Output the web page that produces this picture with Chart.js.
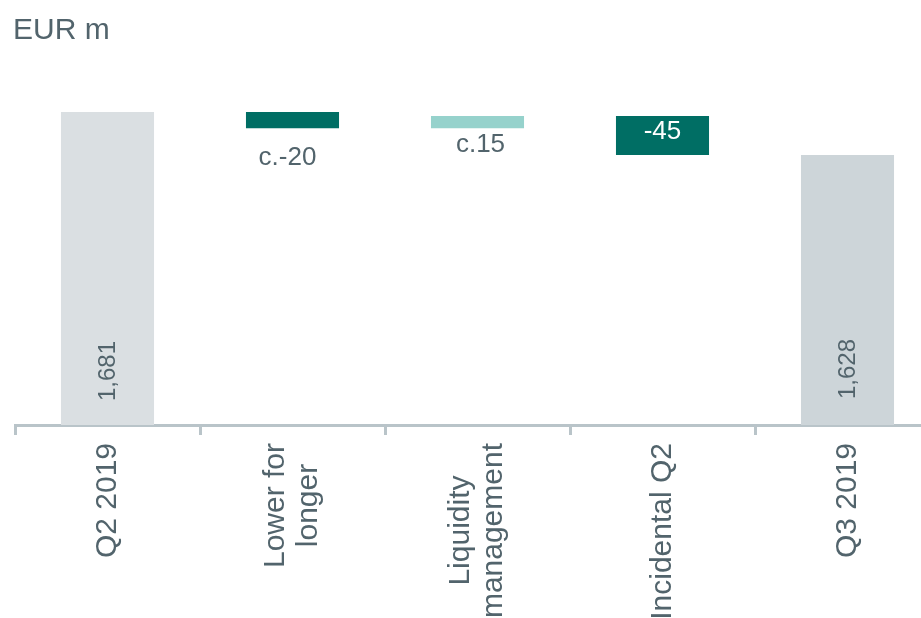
<!DOCTYPE html>
<html>
<head>
<meta charset="utf-8">
<script src="https://cdn.jsdelivr.net/npm/chart.js@4/dist/chart.umd.min.js"></script>
<style>
  html, body { margin: 0; padding: 0; background: #ffffff; overflow: hidden; }
  #wrap { position: relative; width: 921px; height: 618px; overflow: hidden; }
  canvas { display: block; }
</style>
</head>
<body>
<div id="wrap"><canvas id="c" width="945" height="618"></canvas></div>
<script>
// ---- data ----
const unitLabel = "EUR m";
const categories = [["Q2 2019"], ["Lower for", "longer"], ["Liquidity", "management"], ["Incidental Q2"], ["Q3 2019"]];
const axisMin = 1295;
const axisMax = 1750;
const barLow  = [axisMin, 1661, 1661, 1628, axisMin];
const barHigh = [1681,    1681, 1676, 1676, 1628];
const valueLabels = ["1,681", "c.-20", "c.15", "-45", "1,628"];

// ---- styles ----
const FONT = "'Liberation Sans', Arial, sans-serif";
const TEXT = "#52646c";
const barColors = ["#dadfe2", "#006e64", "#96d2cc", "#006e64", "#cdd5d9"];
// label style per bar: kind, colour, font size, offsets
const labelStyle = [
  { kind: "rotBase", color: TEXT, size: 24, dy: -24, dx: 1 },
  { kind: "below",   color: TEXT, size: 26, dy: 37,  dx: -5 },
  { kind: "below",   color: TEXT, size: 26, dy: 24,  dx: 3 },
  { kind: "inside",  color: "#ffffff", size: 26, dy: 23, dx: 0 },
  { kind: "rotBase", color: TEXT, size: 24, dy: -26, dx: 1 }
];

const floating = barLow.map((lo, i) => [lo, barHigh[i]]);

const overlay = {
  id: "overlay",
  afterDatasetsDraw(chart) {
    const ctx = chart.ctx;
    const meta = chart.getDatasetMeta(0);
    // value labels
    meta.data.forEach((bar, i) => {
      const st = labelStyle[i];
      const top = Math.min(bar.y, bar.base);
      const bottom = Math.max(bar.y, bar.base);
      ctx.save();
      ctx.fillStyle = st.color;
      ctx.font = st.size + "px " + FONT;
      if (st.kind === "rotBase") {
        ctx.translate(bar.x + st.dx, bottom + st.dy);
        ctx.rotate(-Math.PI / 2);
        ctx.textAlign = "left";
        ctx.textBaseline = "middle";
        ctx.fillText(valueLabels[i], 0, 0);
      } else if (st.kind === "below") {
        ctx.textAlign = "center";
        ctx.textBaseline = "alphabetic";
        ctx.fillText(valueLabels[i], bar.x + st.dx, bottom + st.dy);
      } else {
        ctx.textAlign = "center";
        ctx.textBaseline = "alphabetic";
        ctx.fillText(valueLabels[i], bar.x + st.dx, top + st.dy);
      }
      ctx.restore();
    });
    // category labels (rotated, lines centred within block)
    const xs = chart.scales.x;
    ctx.save();
    ctx.font = "30px " + FONT;
    ctx.fillStyle = TEXT;
    categories.forEach((lines, i) => {
      const cx = xs.getPixelForValue(i);
      const w = Math.max(...lines.map(l => ctx.measureText(l).width));
      ctx.save();
      ctx.translate(cx, chart.chartArea.bottom + 18);
      ctx.rotate(-Math.PI / 2);
      ctx.textAlign = "center";
      ctx.textBaseline = "middle";
      const lh = 33;
      lines.forEach((l, k) => {
        ctx.fillText(l, -w / 2, (k - (lines.length - 1) / 2) * lh);
      });
      ctx.restore();
    });
    ctx.restore();
    // unit title
    ctx.save();
    ctx.font = "30px " + FONT;
    ctx.fillStyle = TEXT;
    ctx.textAlign = "left";
    ctx.textBaseline = "alphabetic";
    ctx.fillText(unitLabel, 13, 39);
    ctx.restore();
  }
};

new Chart(document.getElementById("c"), {
  type: "bar",
  data: {
    labels: categories.map(c => c.join(" ")),
    datasets: [{
      data: floating,
      backgroundColor: barColors,
      borderWidth: 0,
      barPercentage: 0.503,
      categoryPercentage: 1.0
    }]
  },
  options: {
    responsive: false,
    animation: false,
    layout: { padding: { left: 15, right: 5, top: 56, bottom: 183 } },
    plugins: { legend: { display: false }, tooltip: { enabled: false }, title: { display: false } },
    scales: {
      x: {
        offset: true,
        ticks: { display: false },
        grid: { display: true, drawOnChartArea: false, drawTicks: true, tickLength: 10, color: "#b9c4c9", lineWidth: 3, offset: true },
        border: { display: true, color: "#b9c4c9", width: 3 }
      },
      y: {
        display: false,
        min: axisMin,
        max: axisMax
      }
    }
  },
  plugins: [overlay]
});
</script>
</body>
</html>
